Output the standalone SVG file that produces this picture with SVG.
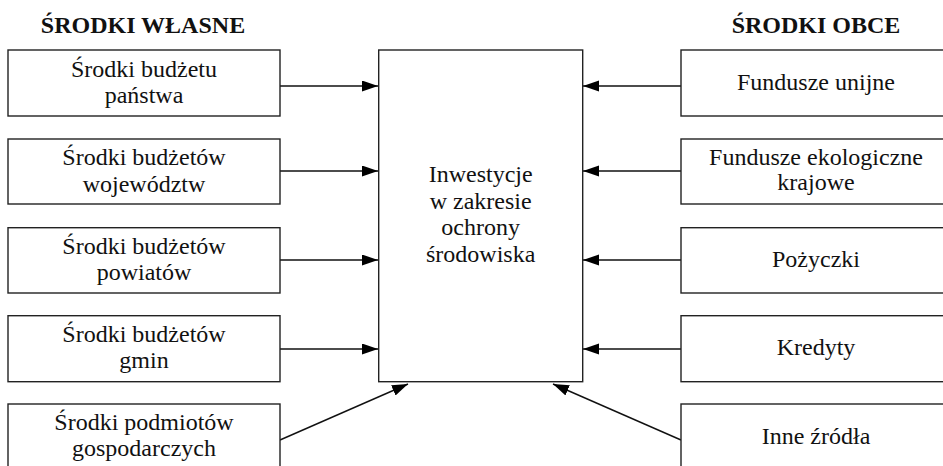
<svg xmlns="http://www.w3.org/2000/svg" width="943" height="466" viewBox="0 0 943 466">
<style>
.box{fill:#fff;stroke:#222;stroke-width:1.4}
.t{font-family:"Liberation Serif","Times New Roman",serif;font-size:24px;fill:#111;text-anchor:middle}
.h{font-family:"Liberation Serif","Times New Roman",serif;font-size:24px;font-weight:bold;fill:#111;text-anchor:middle}
.c{fill:none;stroke:#111;stroke-width:1.4}
</style>
<defs>
<marker id="ah" markerUnits="userSpaceOnUse" markerWidth="16" markerHeight="12" refX="16" refY="5.5" orient="auto">
<path d="M0,0 L16,5.5 L0,11 z" fill="#000"/>
</marker>
</defs>
<text class="h" x="143" y="33">ŚRODKI WŁASNE</text>
<text class="h" x="816" y="33">ŚRODKI OBCE</text>
<g id="connectors">
<line class="c" x1="280" y1="86" x2="378" y2="86" marker-end="url(#ah)"/>
<line class="c" x1="280" y1="171" x2="378" y2="171" marker-end="url(#ah)"/>
<line class="c" x1="280" y1="260" x2="378" y2="260" marker-end="url(#ah)"/>
<line class="c" x1="280" y1="349" x2="378" y2="349" marker-end="url(#ah)"/>
<line class="c" x1="280" y1="440" x2="408" y2="384" marker-end="url(#ah)"/>
<line class="c" x1="681" y1="86" x2="583" y2="86" marker-end="url(#ah)"/>
<line class="c" x1="681" y1="171" x2="583" y2="171" marker-end="url(#ah)"/>
<line class="c" x1="681" y1="260" x2="583" y2="260" marker-end="url(#ah)"/>
<line class="c" x1="681" y1="349" x2="583" y2="349" marker-end="url(#ah)"/>
<line class="c" x1="681" y1="440" x2="553" y2="384" marker-end="url(#ah)"/>
</g>
<g id="center">
<rect class="box" x="378.7" y="50" width="204" height="331.7"/>
<text class="t" x="480.7" y="182">Inwestycje</text>
<text class="t" x="480.7" y="208.5">w zakresie</text>
<text class="t" x="480.7" y="235">ochrony</text>
<text class="t" x="480.7" y="261.5">środowiska</text>
</g>
<g id="l1">
<rect class="box" x="8" y="50" width="272" height="66"/>
<text class="t" x="144" y="77">Środki budżetu</text>
<text class="t" x="144" y="103">państwa</text>
</g>
<g id="l2">
<rect class="box" x="8" y="139" width="272" height="65"/>
<text class="t" x="144" y="165">Środki budżetów</text>
<text class="t" x="144" y="191.5">województw</text>
</g>
<g id="l3">
<rect class="box" x="8" y="227.7" width="272" height="65.3"/>
<text class="t" x="144" y="254">Środki budżetów</text>
<text class="t" x="144" y="280">powiatów</text>
</g>
<g id="l4">
<rect class="box" x="8" y="315.7" width="272" height="66"/>
<text class="t" x="144" y="342">Środki budżetów</text>
<text class="t" x="144" y="368">gmin</text>
</g>
<g id="l5">
<rect class="box" x="8" y="404" width="272" height="66"/>
<text class="t" x="144" y="430">Środki podmiotów</text>
<text class="t" x="144" y="456">gospodarczych</text>
</g>
<g id="r1">
<rect class="box" x="681" y="50" width="272" height="66"/>
<text class="t" x="816" y="90">Fundusze unijne</text>
</g>
<g id="r2">
<rect class="box" x="681" y="139" width="272" height="65"/>
<text class="t" x="816" y="165">Fundusze ekologiczne</text>
<text class="t" x="816" y="190">krajowe</text>
</g>
<g id="r3">
<rect class="box" x="681" y="227.7" width="272" height="65.3"/>
<text class="t" x="816" y="266.7">Pożyczki</text>
</g>
<g id="r4">
<rect class="box" x="681" y="315.7" width="272" height="66"/>
<text class="t" x="816" y="355">Kredyty</text>
</g>
<g id="r5">
<rect class="box" x="681" y="404" width="272" height="66"/>
<text class="t" x="816" y="444">Inne źródła</text>
</g>
</svg>
